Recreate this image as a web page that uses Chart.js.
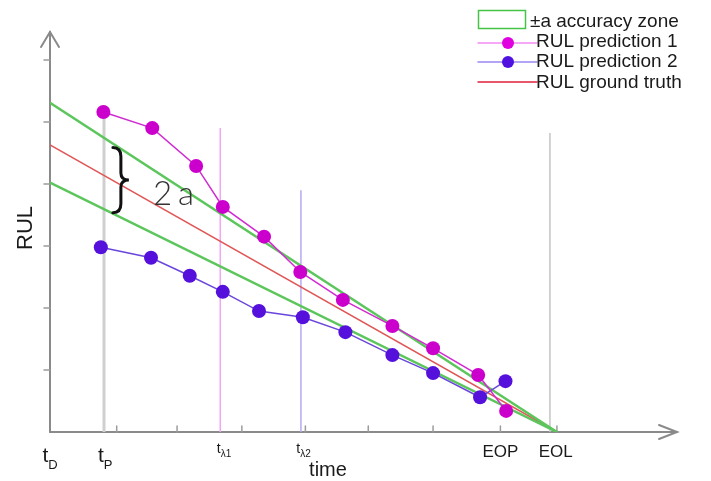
<!DOCTYPE html>
<html>
<head>
<meta charset="utf-8">
<script src="https://cdn.jsdelivr.net/npm/chart.js@4/dist/chart.umd.min.js"></script>
<style>
  html, body { margin: 0; padding: 0; background: #fff; }
  canvas { display: block; }
</style>
</head>
<body>
<canvas id="rulChart" width="711" height="481"></canvas>
<script>
// ---- data (axis units: one tick step = 1) ----
const pred1X = [0.84, 1.61, 2.30, 2.72, 3.37, 3.94, 4.61, 5.39, 6.03, 6.74, 7.18];
const pred1Y = [5.16, 4.90, 4.29, 3.63, 3.15, 2.58, 2.13, 1.71, 1.35, 0.92, 0.34];
const pred2X = [0.80, 1.59, 2.20, 2.72, 3.29, 3.98, 4.65, 5.39, 6.03, 6.77, 7.17];
const pred2Y = [2.98, 2.81, 2.52, 2.26, 1.95, 1.85, 1.61, 1.24, 0.95, 0.56, 0.82];

const eolX = 7.98;           // where ground truth and zone reach zero
const truthStart = 4.63;     // ground truth RUL at tD
const zoneUpperStart = 5.31; // +a bound at tD
const zoneLowerStart = 4.02; // -a bound at tD

// vertical markers: x, top
const markerX = [0.85, 2.68, 3.95, 7.87];
const markerTop = [5.27, 4.90, 3.90, 4.82];

// axis ticks
const xTickVals = [1.05, 2.0, 3.02, 4.02, 5.01, 6.03, 7.09, 7.98];
const yTickVals = [1, 2, 3, 4, 5, 6];
const xMax = 9.87;
const yMax = 6.45;

// x axis labels: main text, subscript, position
const markLabels = ["t", "t", "t", "t", "EOP", "EOL"];
const markSubs = ["D", "P", "λ1", "λ2", "", ""];
const markVals = [0, 0.87, 2.74, 3.99, 7.09, 7.96];

const legendLabels = ["±a accuracy zone", "RUL prediction 1", "RUL prediction 2", "RUL ground truth"];

const colors = {
  zone: "#5cc65c",
  truth: "#e05656",
  pred1: "#cc00cc",
  pred1Line: "#d22ad2",
  pred2: "#5510dc",
  pred2Line: "#6a46dc",
  axis: "#8a8a8a",
};

const toPoints = (xs, ys) => xs.map((v, i) => ({ x: v, y: ys[i] }));

function lineSet(points, color, width, order) {
  return {
    data: points,
    showLine: true,
    borderColor: color,
    borderWidth: width,
    pointRadius: 0,
    fill: false,
    order: order,
  };
}

const markerColors = ["#cfcfcf", "#f3a6f3", "#b8a8f2", "#c4c4c4"];
const markerWidths = [3, 1.5, 1.5, 1.5];

const datasets = [
  {
    data: toPoints(pred1X, pred1Y),
    showLine: true,
    borderColor: colors.pred1Line,
    borderWidth: 1.5,
    backgroundColor: colors.pred1,
    pointBorderWidth: 0,
    pointRadius: 7,
    order: 1,
  },
  {
    data: toPoints(pred2X, pred2Y),
    showLine: true,
    borderColor: colors.pred2Line,
    borderWidth: 1.5,
    backgroundColor: colors.pred2,
    pointBorderWidth: 0,
    pointRadius: 7,
    order: 2,
  },
  lineSet([{ x: 0, y: zoneUpperStart }, { x: eolX, y: 0 }], colors.zone, 2.5, 3),
  lineSet([{ x: 0, y: zoneLowerStart }, { x: eolX, y: 0 }], colors.zone, 2.5, 3),
  lineSet([{ x: 0, y: truthStart }, { x: eolX, y: 0 }], colors.truth, 1.5, 4),
];
markerX.forEach((mx, i) => {
  datasets.push(lineSet([{ x: mx, y: 0 }, { x: mx, y: markerTop[i] }], markerColors[i], markerWidths[i], 10));
});

function strokeLine(ctx, x1, y1, x2, y2) {
  ctx.beginPath();
  ctx.moveTo(x1, y1);
  ctx.lineTo(x2, y2);
  ctx.stroke();
}

const decor = {
  id: "decor",
  beforeDatasetsDraw(chart) {
    const { ctx, scales: { x, y } } = chart;
    const x0 = x.getPixelForValue(0);
    const y0 = y.getPixelForValue(0);
    const xEnd = x.getPixelForValue(xMax);
    const yEnd = y.getPixelForValue(yMax);
    ctx.save();
    ctx.lineCap = "round";
    // axes
    ctx.strokeStyle = colors.axis;
    ctx.lineWidth = 2;
    strokeLine(ctx, x0, y0, xEnd, y0);
    strokeLine(ctx, x0, y0, x0, yEnd);
    // arrow heads
    ctx.beginPath();
    ctx.moveTo(x0 - 9, yEnd + 15);
    ctx.lineTo(x0, yEnd);
    ctx.lineTo(x0 + 9, yEnd + 15);
    ctx.moveTo(xEnd - 18, y0 - 7);
    ctx.lineTo(xEnd, y0);
    ctx.lineTo(xEnd - 18, y0 + 7);
    ctx.stroke();
    // ticks
    ctx.strokeStyle = "#9c9c9c";
    ctx.lineWidth = 1.5;
    yTickVals.forEach((v) => {
      const py = y.getPixelForValue(v);
      strokeLine(ctx, x0 - 6, py, x0, py);
    });
    xTickVals.forEach((v) => {
      const px = x.getPixelForValue(v);
      strokeLine(ctx, px, y0, px, y0 - 6);
    });
    ctx.restore();
  },
  afterDraw(chart) {
    const { ctx, scales: { x, y } } = chart;
    const y0 = y.getPixelForValue(0);
    ctx.save();
    ctx.fillStyle = "#1a1a1a";
    ctx.textBaseline = "alphabetic";

    // x marker labels
    markLabels.forEach((txt, i) => {
      const px = x.getPixelForValue(markVals[i]);
      const sub = markSubs[i];
      if (!sub) {
        ctx.font = "17px 'Liberation Sans', Arial, sans-serif";
        ctx.textAlign = "center";
        ctx.fillText(txt, px, y0 + 25);
        return;
      }
      const big = sub.length === 1;
      const mainFont = big ? "21px 'Liberation Sans', Arial, sans-serif" : "14px 'Liberation Sans', Arial, sans-serif";
      const subFont = big ? "13px 'Liberation Sans', Arial, sans-serif" : "10px 'Liberation Sans', Arial, sans-serif";
      ctx.font = mainFont;
      const w = ctx.measureText(txt).width;
      ctx.font = subFont;
      const ws = ctx.measureText(sub).width;
      const left = px - (w + ws) / 2;
      ctx.textAlign = "left";
      ctx.font = mainFont;
      ctx.fillText(txt, left, big ? y0 + 30 : y0 + 21);
      ctx.font = subFont;
      ctx.fillText(sub, left + w, big ? y0 + 37 : y0 + 25);
    });

    // axis titles
    ctx.textAlign = "center";
    ctx.font = "20px 'Liberation Sans', Arial, sans-serif";
    ctx.fillText("time", 328, 476);
    ctx.save();
    ctx.translate(32, 228);
    ctx.rotate(-Math.PI / 2);
    ctx.font = "22px 'Liberation Sans', Arial, sans-serif";
    ctx.fillText("RUL", 0, 0);
    ctx.restore();

    // brace spanning the accuracy zone
    const bx = x.getPixelForValue(0.99);
    const slope = 1 - 0.99 / eolX;
    const top = y.getPixelForValue(zoneUpperStart * slope) + 4;
    const bot = y.getPixelForValue(zoneLowerStart * slope) - 1;
    const mid = (top + bot) / 2;
    ctx.strokeStyle = "#111";
    ctx.lineWidth = 3;
    ctx.lineCap = "round";
    ctx.beginPath();
    ctx.moveTo(bx, top);
    ctx.quadraticCurveTo(bx + 8, top, bx + 8, top + 9);
    ctx.lineTo(bx + 8, mid - 7);
    ctx.quadraticCurveTo(bx + 8, mid, bx + 16, mid);
    ctx.quadraticCurveTo(bx + 8, mid, bx + 8, mid + 7);
    ctx.lineTo(bx + 8, bot - 9);
    ctx.quadraticCurveTo(bx + 8, bot, bx, bot);
    ctx.stroke();

    ctx.fillStyle = "#333";
    ctx.textAlign = "left";
    ctx.font = "300 33px Lato, 'DejaVu Sans', sans-serif";
    ctx.fillText("2", 153, 205);
    ctx.fillText("a", 178, 205);

    // legend
    ctx.font = "19px 'Liberation Sans', Arial, sans-serif";
    ctx.fillStyle = "#1a1a1a";
    ctx.strokeStyle = "#44c444";
    ctx.lineWidth = 1.5;
    ctx.strokeRect(478.5, 10.5, 47, 18);
    ctx.fillText(legendLabels[0], 530, 27);

    const rows = [
      { yy: 43, line: "#f58af5", dot: "#e000e0", base: 47 },
      { yy: 62, line: "#9a86f2", dot: "#5010e0", base: 67 },
      { yy: 82, line: "#e0203c", dot: null, base: 88 },
    ];
    rows.forEach((r, i) => {
      ctx.strokeStyle = r.line;
      ctx.lineWidth = 1.5;
      strokeLine(ctx, 478, r.yy, 537, r.yy);
      if (r.dot) {
        ctx.fillStyle = r.dot;
        ctx.beginPath();
        ctx.arc(508, r.yy, 6, 0, Math.PI * 2);
        ctx.fill();
      }
      ctx.fillStyle = "#1a1a1a";
      ctx.fillText(legendLabels[i + 1], 536, r.base);
    });
    ctx.restore();
  },
};

new Chart(document.getElementById("rulChart"), {
  type: "scatter",
  data: { datasets },
  options: {
    responsive: false,
    devicePixelRatio: 1,
    animation: false,
    layout: { padding: { left: 50, top: 32, right: 34, bottom: 49 } },
    scales: {
      x: { type: "linear", min: 0, max: xMax, display: false },
      y: { type: "linear", min: 0, max: yMax, display: false },
    },
    plugins: { legend: { display: false }, tooltip: { enabled: false } },
    elements: { line: { tension: 0 } },
  },
  plugins: [decor],
});
</script>
</body>
</html>
